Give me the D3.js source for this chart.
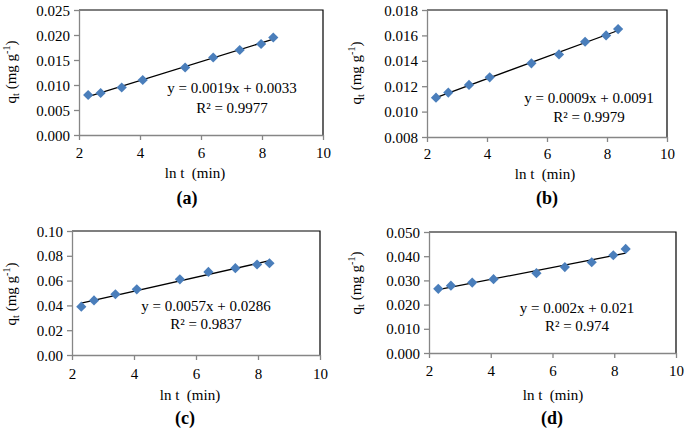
<!DOCTYPE html>
<html>
<head>
<meta charset="utf-8">
<script src="https://cdn.jsdelivr.net/npm/d3@7"></script>
<style>
	body { margin: 0; background: #fff; }
</style>
</head>
<body>
<div class="figure"></div>
<script>
// shared x values: ln of contact time
const lnT = [2.30, 2.71, 3.40, 4.09, 5.48, 6.40, 7.27, 7.97, 8.37]
const xTicks = [2, 4, 6, 8, 10]

// qt series for each panel
const qtA = [0.0080, 0.0084, 0.0095, 0.0110, 0.0135, 0.0155, 0.0170, 0.0182, 0.0195]
const qtB = [0.0111, 0.0115, 0.0121, 0.0127, 0.0138, 0.0145, 0.0155, 0.0160, 0.0165]
const qtC = [0.039, 0.044, 0.049, 0.053, 0.061, 0.067, 0.070, 0.073, 0.074]
const qtD = [0.0265, 0.0278, 0.0291, 0.0305, 0.0330, 0.0355, 0.0375, 0.0404, 0.0430]

// y tick labels
const yTicksA = ['0.000', '0.005', '0.010', '0.015', '0.020', '0.025']
const yTicksB = ['0.008', '0.010', '0.012', '0.014', '0.016', '0.018']
const yTicksC = ['0.00', '0.02', '0.04', '0.06', '0.08', '0.10']
const yTicksD = ['0.000', '0.010', '0.020', '0.030', '0.040', '0.050']

// trendline labels
const eqA = ['y = 0.0019x + 0.0033', 'R² = 0.9977']
const eqB = ['y = 0.0009x + 0.0091', 'R² = 0.9979']
const eqC = ['y = 0.0057x + 0.0286', 'R² = 0.9837']
const eqD = ['y = 0.002x + 0.021', 'R² = 0.974']

const panelNames = ['(a)', '(b)', '(c)', '(d)']

const panels = [
	{ qt: qtA, ticks: yTicksA, eq: eqA, name: panelNames[0],
		left: 79, right: 323, top: 10, bottom: 135,
		xTickY: 158, titleX: 195, titleY: 178, nameX: 187, nameY: 204,
		eqX: 232, eqY: 93, eqGap: 20, yLabX: 16, yLabY: 72 },
	{ qt: qtB, ticks: yTicksB, eq: eqB, name: panelNames[1],
		left: 427, right: 667, top: 10, bottom: 137,
		xTickY: 159, titleX: 545, titleY: 179, nameX: 547, nameY: 204,
		eqX: 589, eqY: 103, eqGap: 19, yLabX: 361, yLabY: 73 },
	{ qt: qtC, ticks: yTicksC, eq: eqC, name: panelNames[2],
		left: 72, right: 320, top: 231, bottom: 355,
		xTickY: 379, titleX: 190, titleY: 400, nameX: 185, nameY: 424,
		eqX: 206, eqY: 311, eqGap: 18, yLabX: 16, yLabY: 294 },
	{ qt: qtD, ticks: yTicksD, eq: eqD, name: panelNames[3],
		left: 429, right: 676, top: 232, bottom: 353,
		xTickY: 376, titleX: 553, titleY: 400, nameX: 552, nameY: 424,
		eqX: 577, eqY: 313, eqGap: 18, yLabX: 361, yLabY: 283 }
]

const axisGrey = '#868686'
const markerBlue = '#4a7ebb'

const svg = d3.select('.figure')
	.append('svg')
	.attr('width', 685)
	.attr('height', 432)

// least squares fit for the trendline
function linFit(xs, ys) {
	const mx = d3.mean(xs), my = d3.mean(ys)
	let sxy = 0, sxx = 0
	xs.forEach((x, i) => { sxy += (x - mx) * (ys[i] - my); sxx += (x - mx) * (x - mx) })
	const m = sxy / sxx
	return { m: m, b: my - m * mx }
}

panels.forEach(p => {
	const g = svg.append('g')
	const yVals = p.ticks.map(Number)

	const x = d3.scaleLinear()
		.domain([2, 10])
		.range([p.left, p.right])

	const y = d3.scaleLinear()
		.domain(d3.extent(yVals))
		.range([p.bottom, p.top])

	// plot area frame (top and right)
	g.append('path')
		.attr('d', `M${p.left},${p.top}H${p.right}V${p.bottom}`)
		.attr('fill', 'none')
		.attr('stroke', '#000')
		.attr('stroke-width', 1.2)

	// axes
	const xAxis = d3.axisBottom(x).tickValues(xTicks).tickSize(5).tickSizeOuter(0).tickFormat(d3.format('d'))
	const yAxis = d3.axisLeft(y).tickValues(yVals).tickSize(5).tickSizeOuter(0)
		.tickFormat((d, i) => p.ticks[i])

	const xg = g.append('g')
		.attr('transform', `translate(0, ${p.bottom})`)
		.call(xAxis)
	const yg = g.append('g')
		.attr('transform', `translate(${p.left}, 0)`)
		.call(yAxis)

	;[xg, yg].forEach(ax => {
		ax.select('.domain').attr('stroke', axisGrey).attr('stroke-width', 1.3)
		ax.selectAll('.tick line').attr('stroke', axisGrey).attr('stroke-width', 1.3)
		ax.selectAll('.tick text')
			.attr('font-size', 15)
			.attr('fill', '#000')
	})
	xg.selectAll('.tick text').attr('y', null).attr('dy', null)
		.attr('transform', `translate(0, ${p.xTickY - p.bottom})`)
	yg.selectAll('.tick text').attr('x', -9).attr('dy', '0.34em')

	// trendline from fitted coefficients
	const fit = linFit(lnT, p.qt)
	const xr = d3.extent(lnT)
	g.append('line')
		.attr('x1', x(xr[0]))
		.attr('y1', y(fit.m * xr[0] + fit.b))
		.attr('x2', x(xr[1]))
		.attr('y2', y(fit.m * xr[1] + fit.b))
		.attr('stroke', '#000')
		.attr('stroke-width', 1.3)

	// diamond markers
	g.selectAll('.pt')
		.data(p.qt)
		.enter()
		.append('path')
		.attr('class', 'pt')
		.attr('d', d3.symbol(d3.symbolSquare, 52))
		.attr('transform', (d, i) => `translate(${x(lnT[i])}, ${y(d)}) rotate(45)`)
		.attr('fill', markerBlue)

	// equation text
	g.selectAll('.eq')
		.data(p.eq)
		.enter()
		.append('text')
		.attr('class', 'eq')
		.attr('x', p.eqX)
		.attr('y', (d, i) => p.eqY + i * p.eqGap)
		.attr('text-anchor', 'middle')
		.attr('font-size', 15)
		.text(d => d)

	// axis titles
	g.append('text')
		.attr('x', p.titleX)
		.attr('y', p.titleY)
		.attr('text-anchor', 'middle')
		.attr('font-size', 15)
		.style('white-space', 'pre')
		.text('ln t  (min)')

	const yl = g.append('text')
		.attr('transform', `translate(${p.yLabX}, ${p.yLabY}) rotate(-90)`)
		.attr('text-anchor', 'middle')
		.attr('font-size', 15)
	yl.append('tspan').text('q')
	yl.append('tspan').attr('font-size', 10).attr('dy', 3).text('t')
	yl.append('tspan').attr('dy', -3).text(' (mg g')
	yl.append('tspan').attr('font-size', 10).attr('dy', -6).text('-1')
	yl.append('tspan').attr('dy', 6).text(')')

	// panel name
	g.append('text')
		.attr('x', p.nameX)
		.attr('y', p.nameY)
		.attr('text-anchor', 'middle')
		.attr('font-size', 18)
		.attr('font-weight', 'bold')
		.text(p.name)
})

// serif everywhere, like the source figure
svg.selectAll('text').style('font-family', 'Liberation Serif').style('fill', '#000')
</script>
</body>
</html>
